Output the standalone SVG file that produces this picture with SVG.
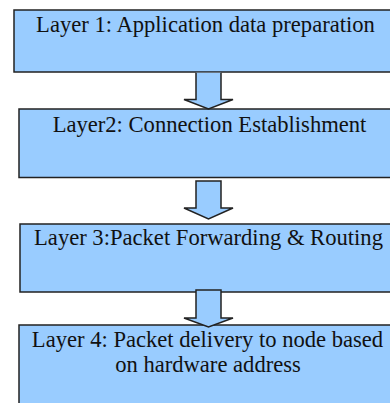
<svg xmlns="http://www.w3.org/2000/svg" width="390" height="403" viewBox="0 0 390 403">
<style>
.box{fill:#99CCFF;stroke:#222;stroke-width:1.5}
.arr{fill:#99CCFF;stroke:#222;stroke-width:1.5;stroke-linejoin:miter}
.t{font-size:22.6px;fill:#111;text-anchor:middle}
</style>
<rect width="390" height="403" fill="#fff"/>
<g id="layer1"><rect class="box" x="14" y="10" width="390" height="62"/><text class="t" font-family="Liberation Serif, serif" x="205.5" y="32">Layer 1: Application data preparation</text></g>
<g id="layer2"><rect class="box" x="19" y="109" width="390" height="68.5"/><text class="t" font-family="Liberation Serif, serif" x="209.5" y="132">Layer2: Connection Establishment</text></g>
<g id="layer3"><rect class="box" x="20" y="224" width="390" height="68"/><text class="t" font-family="Liberation Serif, serif" x="208.5" y="245">Layer 3:Packet Forwarding &amp; Routing</text></g>
<g id="layer4"><rect class="box" x="19" y="325" width="390" height="100"/><text class="t" font-family="Liberation Serif, serif" x="207.5" y="347">Layer 4: Packet delivery to node based</text><text class="t" font-family="Liberation Serif, serif" x="208" y="372">on hardware address</text></g>
<g id="connectors">
<path class="arr" d="M196,72.8 L196,99.5 L184,99.5 L208.5,109 L233,99.5 L221,99.5 L221,72.8"/>
<path class="arr" d="M196,181 L196,208 L184,208 L208.5,219 L233,208 L221,208 L221,181 Z"/>
<path class="arr" d="M196,290 L196,318 L184,318 L208.5,327 L233,318 L221,318 L221,290 Z"/>
</g>
</svg>
